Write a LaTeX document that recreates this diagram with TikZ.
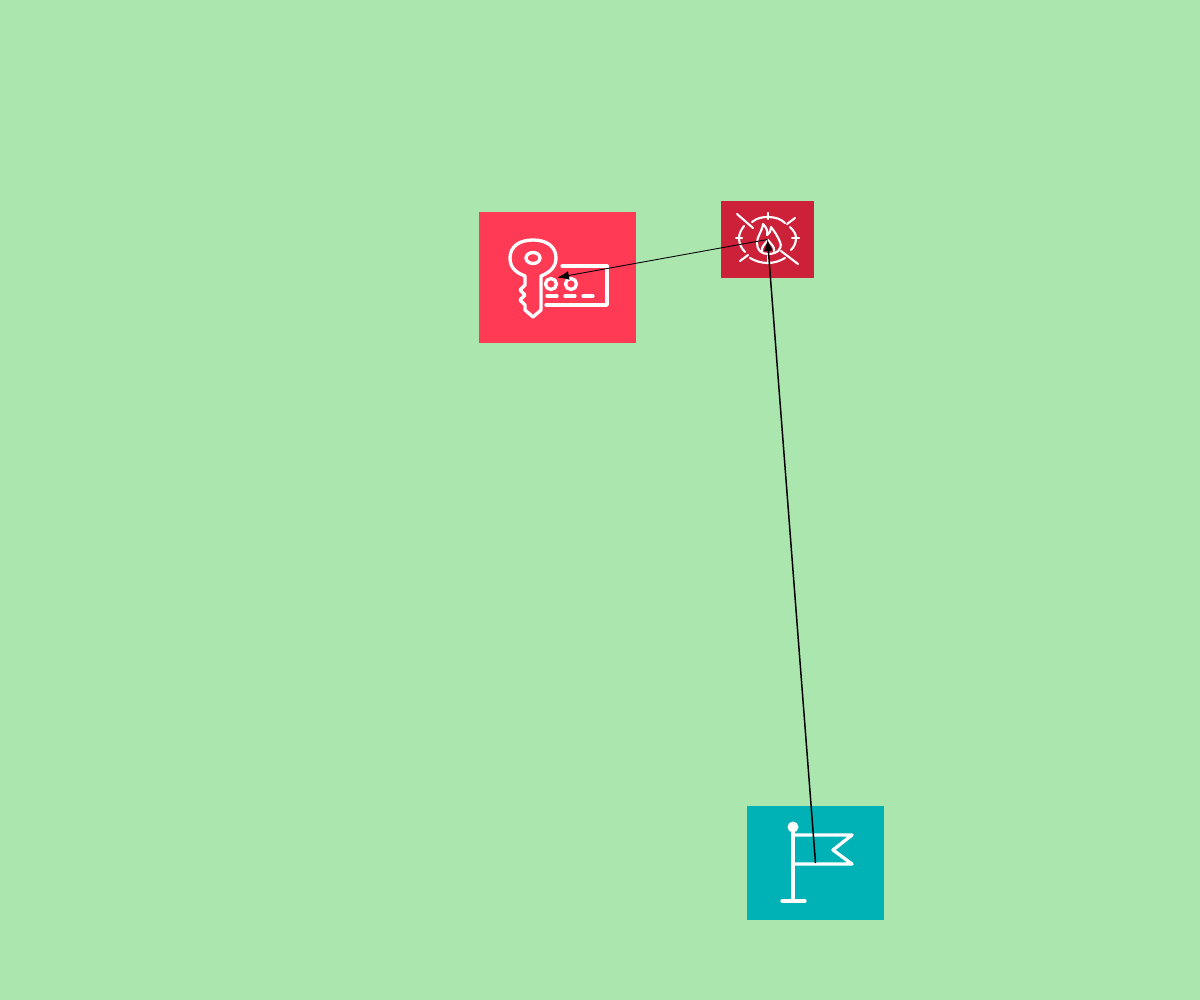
\documentclass[tikz,border=0pt]{standalone}
\usepackage{pgf,tikz}
\usetikzlibrary{arrows.meta}
\definecolor{bggreen}{RGB}{171,230,175}
\definecolor{keyred}{RGB}{255,58,85}
\definecolor{firered}{RGB}{204,33,57}
\definecolor{flagteal}{RGB}{0,177,181}
\tikzset{
	iconbox/.style={inner sep=0pt, outer sep=0pt},
	iconline/.style={draw=white, line width=1.9pt, line join=round, line cap=round},
	thinline/.style={draw=white, line width=1.2pt, line join=round, line cap=round},
	tip/.style={-{Latex[length=6.5pt,width=5pt]}}
}
\begin{document}
\begin{tikzpicture}[x=0.02cm,y=-0.02cm]
	\useasboundingbox (0,0) rectangle (1200,1000);
	\fill[bggreen] (0,0) rectangle (1200,1000);
	% boxes
	\node[iconbox, fill=keyred, minimum width=3.14cm, minimum height=2.62cm] (key) at (557.5,277.5) {};
	\node[iconbox, fill=firered, minimum width=1.86cm, minimum height=1.54cm] (fire) at (767.5,239.5) {};
	\node[iconbox, fill=flagteal, minimum width=2.74cm, minimum height=2.28cm] (flag) at (815.5,863) {};
	% key icon
	\draw[iconline] (525,276) .. controls (514,272) and (510,266) .. (510,258) .. controls (510,246) and (520,240) .. (533,240) .. controls (546,240) and (556,246) .. (556,258) .. controls (556,266) and (551,272) .. (541,276) -- (541,310) -- (533,317) -- (525,310) -- (525,305) -- (520,300) -- (525,295) -- (520,290) -- (525,285) -- cycle;
	\draw[iconline] (533,258) ellipse[x radius=7, y radius=5.5];
	\draw[iconline] (562,266) -- (607,266) -- (607,305) -- (546,305);
	\draw[iconline] (551,284) circle[radius=5.5];
	\draw[iconline] (571,284) circle[radius=5.5];
	\draw[iconline] (547,296) -- (557,296);
	\draw[iconline] (565,296) -- (575,296);
	\draw[iconline] (583,296) -- (593,296);
	% fire icon
	\draw[thinline] (737,214) -- (753,228);
	\draw[thinline] (795,218) -- (787,224);
	\draw[thinline] (740,261) -- (748,255);
	\draw[thinline] (781,251) -- (798,264);
	\draw[thinline] (768,213) -- (768,219);
	\draw[thinline] (736,238) -- (742,238);
	\draw[thinline] (792,238) -- (799,238);
	\draw[thinline] (768,256) -- (768,263);
	\draw[thinline] (752,222) .. controls (757,218) and (762,217) .. (768,217) .. controls (775,217) and (781,219) .. (785,223);
	\draw[thinline] (744,226) .. controls (741,230) and (739,234) .. (739,238) .. controls (739,243) and (741,248) .. (745,252);
	\draw[thinline] (790,227) .. controls (794,231) and (796,234) .. (796,238) .. controls (796,243) and (794,247) .. (791,250);
	\draw[thinline] (750,258) .. controls (755,261) and (761,263) .. (768,263) .. controls (774,263) and (780,261) .. (785,258);
	\draw[thinline] (768,254) .. controls (761,254) and (757,250) .. (757,243) .. controls (757,236) and (762,232) .. (763,224) .. controls (767,228) and (768,232) .. (767,235) .. controls (770,233) and (771,230) .. (771,227) .. controls (775,232) and (778,237) .. (780,242) .. controls (783,249) and (777,254) .. (768,254);
	\draw[thinline] (762,251) .. controls (761,247) and (765,244) .. (768,240) .. controls (771,244) and (775,247) .. (774,251);
	% flag icon
	\draw[iconline] (793,827) -- (793,901);
	\draw[iconline] (782,901) -- (805,901);
	\fill[white] (793,827) circle[radius=5.5];
	\draw[iconline] (793,835) -- (852,835) -- (833,850) -- (852,864) -- (793,864);
	% connectors
	\draw[tip, line width=0.85pt] (flag.center) -- (fire.center);
	\draw[tip, line width=0.5pt] (fire.center) -- (key.center);
\end{tikzpicture}
\end{document}
